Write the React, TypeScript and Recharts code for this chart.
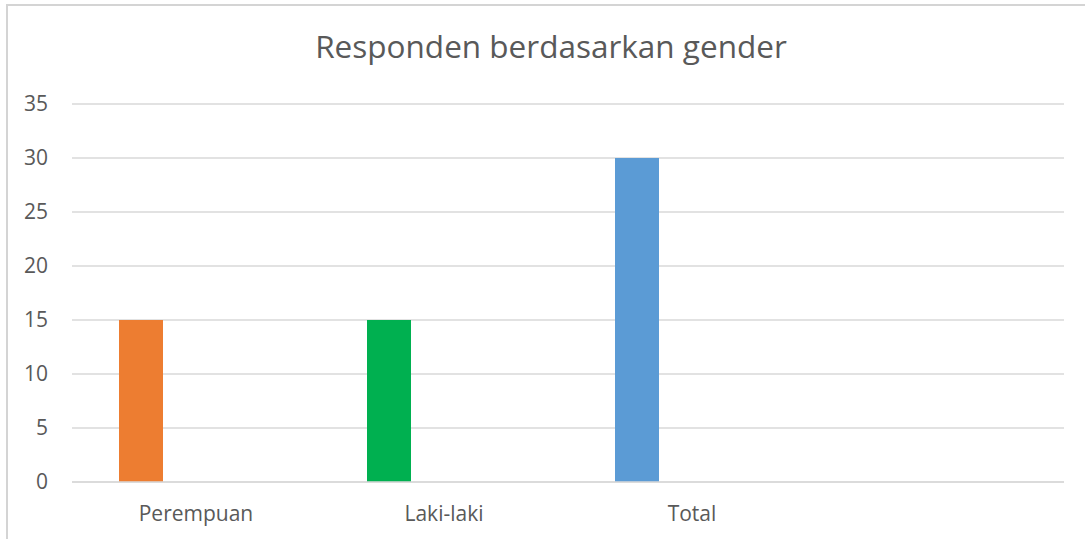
import React from 'react';
import { BarChart, Bar, XAxis, YAxis, CartesianGrid, Cell } from 'recharts';

const categories = ['Perempuan', 'Laki-laki', 'Total', ''];
const jumlahValues = [15, 15, 30, null];
// empty columns from the sheet still take a slot in every category
const kosong1Values = [null, null, null, null];
const kosong2Values = [null, null, null, null];
const barColors = ['#ED7D31', '#00B050', '#5B9BD5', '#FFC000'];
const yTicks = [0, 5, 10, 15, 20, 25, 30, 35];

const data = categories.map((name, i) => ({
  name,
  jumlah: jumlahValues[i],
  kosong1: kosong1Values[i],
  kosong2: kosong2Values[i],
}));

const font = '"Open Sans", sans-serif';
const tickStyle = { fill: '#595959', fontSize: 21, fontFamily: font };

const App = () => {
  return (
    <div style={{ position: 'fixed', left: 0, top: 0, width: 1085, height: 539, overflow: 'hidden', background: '#fff' }}>
      <div
        style={{
          position: 'absolute',
          left: 6,
          top: 4,
          width: 1200,
          height: 700,
          borderLeft: '2px solid #d4d4d4',
          borderTop: '2px solid #d4d4d4',
        }}
      />
      <div style={{ position: 'absolute', left: 0, top: 0 }}>
        <BarChart
          width={1085}
          height={539}
          data={data}
          margin={{ top: 104, right: 21, bottom: 27, left: 12 }}
          barSize={44}
          barGap={11}
        >
          <CartesianGrid vertical={false} stroke="#d9d9d9" strokeWidth={1.5} />
          <XAxis
            dataKey="name"
            tickLine={false}
            axisLine={{ stroke: '#d9d9d9', strokeWidth: 1.5 }}
            tick={tickStyle}
            tickMargin={18}
            height={30}
          />
          <YAxis
            domain={[0, 35]}
            ticks={yTicks}
            interval={0}
            tickLine={false}
            axisLine={false}
            tick={tickStyle}
            tickMargin={18}
            width={60}
          />
          <Bar dataKey="jumlah" isAnimationActive={false}>
            {data.map((d, i) => (
              <Cell key={i} fill={barColors[i]} />
            ))}
          </Bar>
          <Bar dataKey="kosong1" fill="#A5A5A5" isAnimationActive={false} />
          <Bar dataKey="kosong2" fill="#4472C4" isAnimationActive={false} />
        </BarChart>
      </div>
      <svg width={1085} height={80} style={{ position: 'absolute', left: 0, top: 0, pointerEvents: 'none' }}>
        <text x={551} y={58} textAnchor="middle" fill="#595959" fontSize={31.5} fontFamily={font}>
          Responden berdasarkan gender
        </text>
      </svg>
    </div>
  );
};

export default App;
